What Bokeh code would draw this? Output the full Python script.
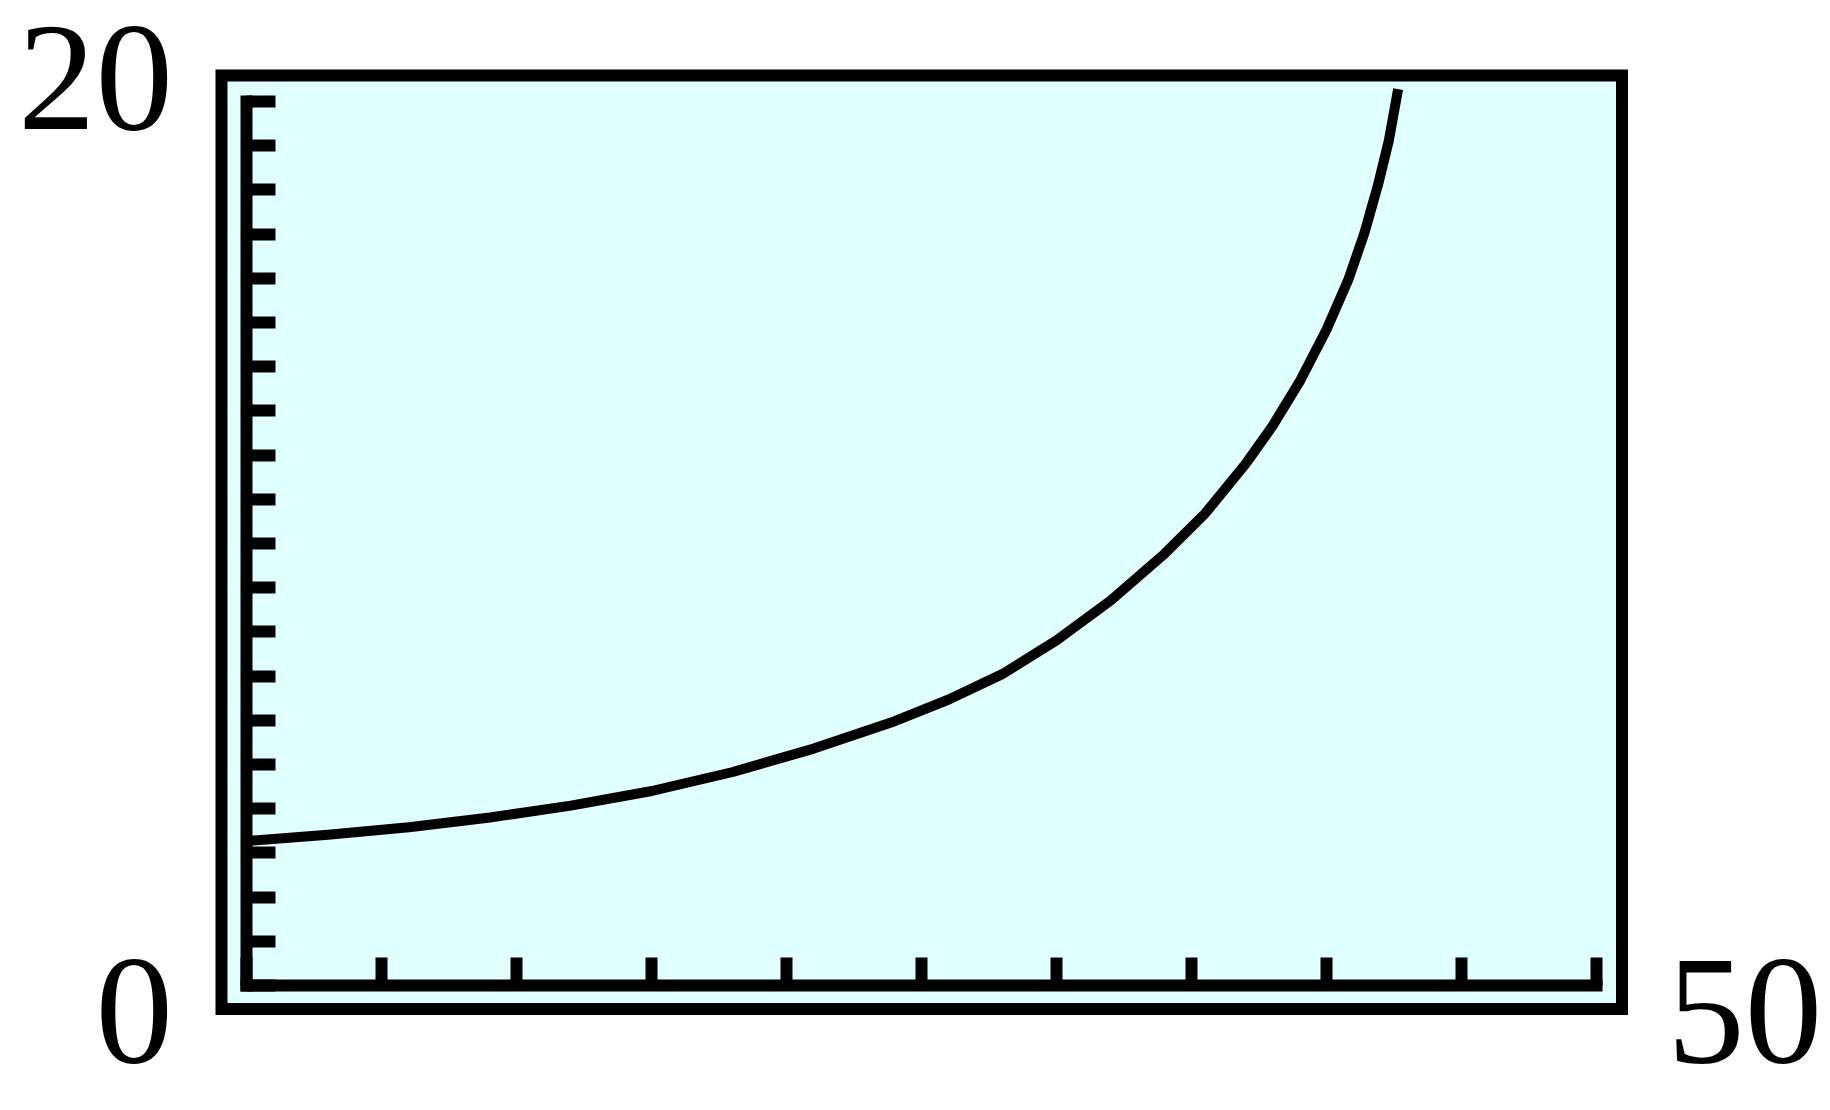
from bokeh.plotting import figure
from bokeh.models import Range1d, FixedTicker, CustomJSTickFormatter, LinearAxis
from bokeh.core.properties import value
from bokeh.embed import file_html
from bokeh.resources import INLINE

# Window of the graph
x_window = [0, 50]
y_window = [0, 20]

# Tick marks (x scale 5, y scale 1)
x_ticks = [0, 5, 10, 15, 20, 25, 30, 35, 40, 45, 50]
y_ticks = list(range(0, 21))

# Curve
curve_x = [0, 3, 6, 9, 12, 15, 18, 21, 24, 26, 28, 30, 32, 34, 35.5, 37, 38,
           39, 40, 40.8, 41.4, 41.9, 42.3, 42.65]
curve_y = [3.27, 3.41, 3.58, 3.80, 4.07, 4.40, 4.83, 5.36, 5.98, 6.47, 7.05,
           7.81, 8.71, 9.77, 10.68, 11.8, 12.66, 13.66, 14.84, 15.96, 17.02,
           18.1, 19.1, 20.28]

W, H = 1826, 1106
p = figure(width=W, height=H, output_backend="svg", toolbar_location=None,
           x_range=Range1d(-9.133, 58.522), y_range=Range1d(-2.738, 22.285),
           x_axis_location=None, y_axis_location=None,
           min_border=0, title=None)
p.grid.visible = False
p.outline_line_color = None
p.background_fill_color = "white"
p.border_fill_color = "white"

# Screen frame around the viewing window
pad_x, pad_y_top, pad_y_bot = 0.945, 0.588, 0.532
p.quad(left=[x_window[0] - pad_x], right=[x_window[1] + pad_x],
       bottom=[y_window[0] - pad_y_bot], top=[y_window[1] + pad_y_top],
       fill_color="#E0FFFF", line_color="black", line_width=12, line_join="miter")

def make_axis(loc, bounds, ticks, tick_len):
    ax = LinearAxis(fixed_location=loc, bounds=bounds,
                    ticker=FixedTicker(ticks=ticks, minor_ticks=[]),
                    formatter=CustomJSTickFormatter(code="return ''"))
    ax.axis_line_width = 12
    ax.axis_line_color = "black"
    ax.axis_line_cap = "square"
    ax.major_tick_line_width = 12
    ax.major_tick_line_color = "black"
    ax.major_tick_in = tick_len
    ax.major_tick_out = 0
    ax.minor_tick_line_color = None
    ax.major_label_text_font_size = "0px"
    ax.major_label_standoff = 0
    return ax

p.add_layout(make_axis(x_window[0], (y_window[0], y_window[1]), y_ticks, 29), "left")
p.add_layout(make_axis(y_window[0], (x_window[0], x_window[1]), x_ticks, 28), "below")

p.line(curve_x, curve_y, line_width=10, line_color="black", line_join="round")

font = value("Liberation Serif")
fs = value("155px")
lab_dx_left = 2.742
lab_dx_right = 2.62
top_label_y = 20.532
bottom_label_y = -0.577
p.text(x=[x_window[0] - lab_dx_left, x_window[0] - lab_dx_left],
       y=[top_label_y, bottom_label_y],
       text=[str(y_window[1]), str(y_window[0])], text_align="right",
       text_baseline="middle", text_font=font, text_font_size=fs,
       text_color="black")
p.text(x=[x_window[1] + lab_dx_right], y=[bottom_label_y], text=[str(x_window[1])],
       text_align="left", text_baseline="middle", text_font=font,
       text_font_size=fs, text_color="black")

open("out.html", "w").write(file_html(p, INLINE))
